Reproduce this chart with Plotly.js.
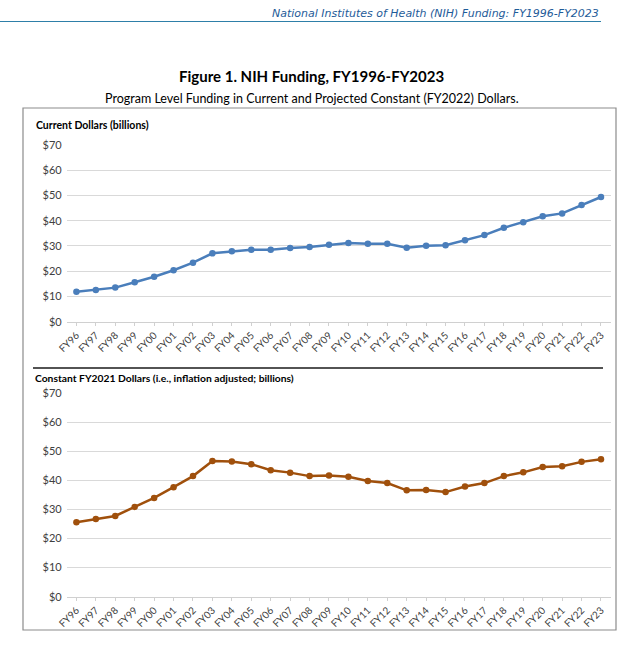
<!DOCTYPE html>
<html>
<head>
<meta charset="utf-8">
<script src="https://cdn.plot.ly/plotly-3.0.1.min.js"></script>
<style>html,body{margin:0;padding:0;background:#fff;}#chart{width:634px;height:647px;}</style>
</head>
<body>
<div id="chart"></div>
<script>
var years = ["FY96","FY97","FY98","FY99","FY00","FY01","FY02","FY03","FY04","FY05","FY06","FY07","FY08","FY09","FY10","FY11","FY12","FY13","FY14","FY15","FY16","FY17","FY18","FY19","FY20","FY21","FY22","FY23"];
var currentDollars = [11.9,12.6,13.5,15.6,17.8,20.4,23.4,27.1,27.9,28.5,28.5,29.2,29.6,30.5,31.2,30.9,30.9,29.3,30.1,30.3,32.3,34.3,37.2,39.4,41.8,42.9,46.2,49.4];
var constantDollars = [25.6,26.7,27.8,30.9,34.0,37.7,41.5,46.7,46.5,45.6,43.5,42.7,41.5,41.7,41.3,39.8,39.1,36.6,36.7,36.0,37.9,39.1,41.5,42.8,44.6,44.9,46.4,47.3];
var yTickVals = [0,10,20,30,40,50,60,70];
var yTickText = ["$0","$10","$20","$30","$40","$50","$60","$70"];

var W = 634, H = 647;
function px(x){ return x / W; }
function py(y){ return 1 - y / H; }

var baseFont = "Lato, 'Open Sans', sans-serif";

var traces = [
  {x: years, y: currentDollars, type: "scatter", mode: "lines+markers", xaxis: "x", yaxis: "y",
   line: {color: "#4A7EBB", width: 2.5}, marker: {color: "#4A7EBB", size: 6.5}, hoverinfo: "x+y"},
  {x: years, y: constantDollars, type: "scatter", mode: "lines+markers", xaxis: "x2", yaxis: "y2",
   line: {color: "#A0500C", width: 2.5}, marker: {color: "#A0500C", size: 6.5}, hoverinfo: "x+y"}
];

function xAxis(anchor){
  return {
    domain: [px(66.7), px(610.7)], anchor: anchor, type: "category",
    range: [-0.5, 27.5], tickangle: -45, showgrid: false, zeroline: false,
    showline: true, linecolor: "#D0D0D0", linewidth: 1,
    ticks: "outside", ticklen: 3, tickcolor: "#D0D0D0",
    tickfont: {family: baseFont, size: 10, color: "#404040"}, automargin: false, fixedrange: true
  };
}
function yAxis(anchor, d){
  return {
    domain: d, anchor: anchor, range: [0, 70], tickvals: yTickVals, ticktext: yTickText,
    showgrid: true, gridcolor: "#D9D9D9", gridwidth: 1, zeroline: false, showline: false,
    ticks: "", ticklabelstandoff: 4,
    tickfont: {family: baseFont, size: 11, color: "#404040"}, automargin: false, fixedrange: true
  };
}

var layout = {
  width: W, height: H, margin: {l: 0, r: 0, t: 0, b: 0},
  paper_bgcolor: "#fff", plot_bgcolor: "rgba(0,0,0,0)", showlegend: false,
  xaxis: xAxis("y"), yaxis: yAxis("x", [py(321.7), py(145)]),
  xaxis2: xAxis("y2"), yaxis2: yAxis("x2", [py(596.7), py(393.3)]),
  shapes: [
    {type: "line", xref: "paper", yref: "paper", x0: 0, x1: px(601), y0: py(21.5), y1: py(21.5), line: {color: "#2E7FA8", width: 1}},
    {type: "rect", xref: "paper", yref: "paper", x0: px(23), x1: px(616), y0: py(108), y1: py(630), line: {color: "#8C8C8C", width: 1.2}},
    {type: "line", xref: "paper", yref: "paper", x0: px(33), x1: px(603), y0: py(368), y1: py(368), line: {color: "#1A1A1A", width: 1.5}}
  ],
  annotations: [
    {text: "<i>National Institutes of Health (NIH) Funding: FY1996-FY2023</i>", xref: "paper", yref: "paper",
     x: px(601), y: py(14), xanchor: "right", yanchor: "middle", showarrow: false,
     font: {family: "'DejaVu Sans', Verdana, sans-serif", size: 11, color: "#1F5C99"}},
    {text: "<b>Figure 1. NIH Funding, FY1996-FY2023</b>", xref: "paper", yref: "paper",
     x: px(311), y: py(76), xanchor: "center", yanchor: "middle", showarrow: false,
     font: {family: "Lato, 'Open Sans', sans-serif", size: 15, color: "#000"}},
    {text: "Program Level Funding in Current and Projected Constant (FY2022) Dollars.", xref: "paper", yref: "paper",
     x: px(311.5), y: py(98.5), xanchor: "center", yanchor: "middle", showarrow: false,
     font: {family: "Lato, 'Open Sans', sans-serif", size: 12.5, color: "#000"}},
    {text: "<b>Current Dollars (billions)</b>", xref: "paper", yref: "paper",
     x: px(34), y: py(125), xanchor: "left", yanchor: "middle", showarrow: false,
     font: {family: baseFont, size: 10.5, color: "#000"}},
    {text: "<b>Constant FY2021 Dollars (i.e., inflation adjusted; billions)</b>", xref: "paper", yref: "paper",
     x: px(33), y: py(377.5), xanchor: "left", yanchor: "middle", showarrow: false,
     font: {family: baseFont, size: 10.3, color: "#000"}}
  ]
};

Plotly.newPlot("chart", traces, layout, {displayModeBar: false, staticPlot: true});
</script>
</body>
</html>
